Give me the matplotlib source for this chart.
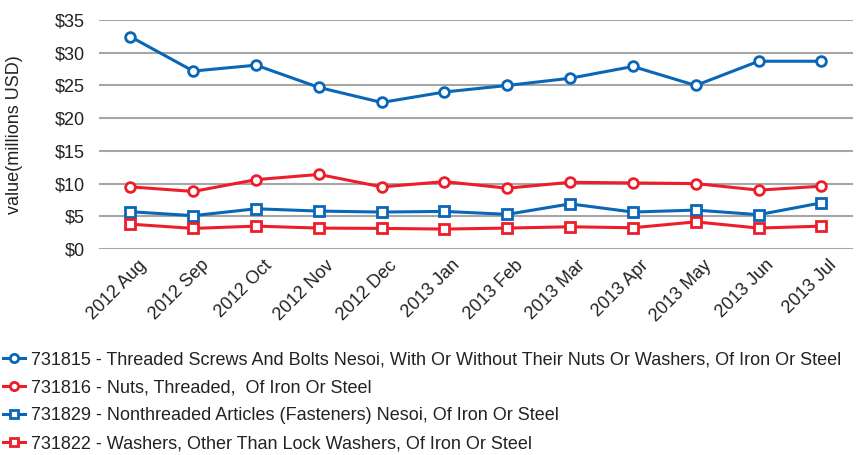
import matplotlib

matplotlib.use("Agg")
import matplotlib.pyplot as plt  # noqa: E402
import matplotlib.transforms as mtransforms  # noqa: E402

plt.rcParams["font.family"] = ["Liberation Sans", "DejaVu Sans"]

months = ["2012 Aug", "2012 Sep", "2012 Oct", "2012 Nov", "2012 Dec", "2013 Jan",
          "2013 Feb", "2013 Mar", "2013 Apr", "2013 May", "2013 Jun", "2013 Jul"]
screws = [32.45, 27.2, 28.1, 24.7, 22.4, 24.0, 25.0, 26.1, 27.9, 25.0, 28.7, 28.7]
nuts = [9.5, 8.8, 10.6, 11.4, 9.5, 10.3, 9.3, 10.2, 10.1, 10.0, 9.0, 9.6]
nonthreaded = [5.7, 5.1, 6.15, 5.8, 5.65, 5.75, 5.3, 6.9, 5.65, 5.95, 5.25, 7.05]
washers = [3.8, 3.15, 3.5, 3.2, 3.15, 3.05, 3.2, 3.4, 3.25, 4.15, 3.2, 3.5]

labels = [
    "731815 - Threaded Screws And Bolts Nesoi, With Or Without Their Nuts Or Washers, Of Iron Or Steel",
    "731816 - Nuts, Threaded,  Of Iron Or Steel",
    "731829 - Nonthreaded Articles (Fasteners) Nesoi, Of Iron Or Steel",
    "731822 - Washers, Other Than Lock Washers, Of Iron Or Steel",
]
BLUE, RED = "#0a66b7", "#ee1d2a"
TXT = "#222222"
series = [(screws, BLUE, "o"), (nuts, RED, "o"), (nonthreaded, BLUE, "s"), (washers, RED, "s")]

fig = plt.figure(figsize=(8.64, 4.55), dpi=100)
ax = fig.add_axes([0.1146, 0.4527, 0.8724, 0.5033])

x = range(len(months))
for (vals, color, mk), label in zip(series, labels):
    ax.plot(x, vals, color=color, lw=2.2, marker=mk, ms=7 if mk == "o" else 6.5,
            mfc="white", mec=color, mew=2, label=label, zorder=3)

ax.set_xlim(-0.5, len(months) - 0.5)
ax.set_ylim(0, 35)
ax.set_yticks(range(0, 36, 5))
ax.set_yticklabels([f"${v}" for v in range(0, 36, 5)])
ax.set_xticks(list(x))
ax.set_xticklabels(months, rotation=45, ha="right", rotation_mode="anchor")
ax.grid(axis="y", color="#a6a6a6", lw=1.5)
ax.set_axisbelow(True)
for s in ax.spines.values():
    s.set_visible(False)
ax.tick_params(length=0, labelsize=13, colors=TXT, pad=10)
ax.tick_params(axis="x", pad=2)
# nudge rotated month labels a little right/down, like the original
shift = mtransforms.ScaledTranslation(7 / 100, -5 / 100, fig.dpi_scale_trans)
for t in ax.get_xticklabels():
    t.set_transform(t.get_transform() + shift)
fig.text(15 / 864, 1 - 135 / 455, "value(millions USD)", rotation=90, fontsize=13,
         color=TXT, ha="center", va="center")

fig.legend(loc="upper left", bbox_to_anchor=(0.004, 0.227), frameon=False,
           fontsize=13, handlelength=1.2, handletextpad=0.3, labelspacing=0.6,
           borderaxespad=0, borderpad=0, labelcolor=TXT, markerscale=0.85)

fig.savefig("out.png", dpi=100)
